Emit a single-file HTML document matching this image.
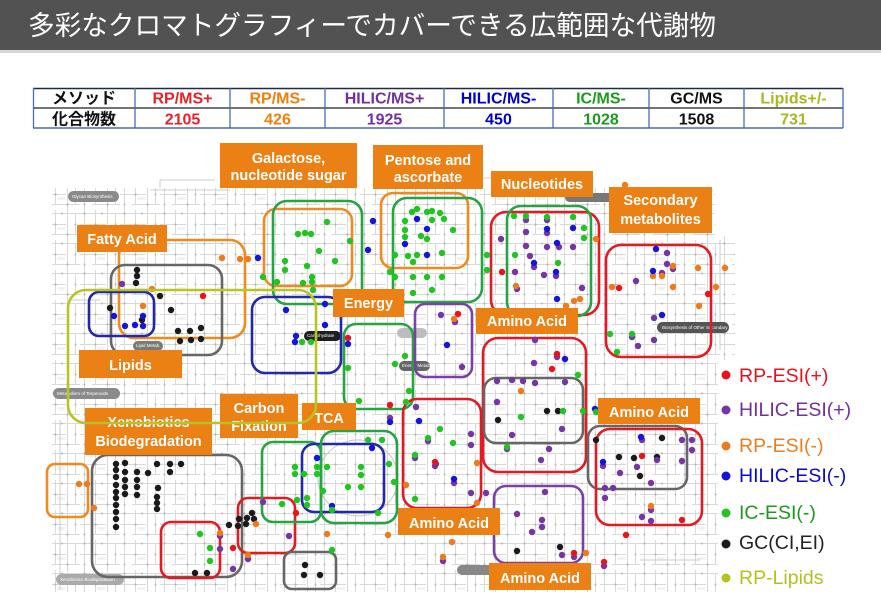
<!DOCTYPE html>
<html><head><meta charset="utf-8"><style>
html,body{margin:0;padding:0;background:#fff;}
body{width:881px;height:606px;overflow:hidden;}
svg{display:block;}
.lb{font-family:"Liberation Sans",Arial,sans-serif;font-weight:bold;font-size:14.5px;fill:#fff;text-anchor:middle;}
.tb{font-family:"Liberation Sans","Noto Sans CJK JP",sans-serif;font-weight:bold;font-size:16px;text-anchor:middle;}
.lg{font-family:"Liberation Sans",Arial,sans-serif;font-size:19.5px;}
.pl{font-family:"Liberation Sans",Arial,sans-serif;font-size:4.5px;fill:#fff;}
</style></head><body>
<svg width="881" height="606" viewBox="0 0 881 606" xmlns="http://www.w3.org/2000/svg">
<defs>
<pattern id="p" width="40" height="30" patternUnits="userSpaceOnUse">
<rect x="17" y="17" width="8" height="3" fill="#f2f2f2"/>
<path d="M0 3.5H40M0 14.5H26M12 24.5H40M4.5 0V30M15.5 0V24M27.5 0V30M35.5 4V24" stroke="#d9d9d9" stroke-width="1" fill="none"/>
<g fill="#b4b4b4"><circle cx="4.5" cy="3.5" r="1.1"/><circle cx="15.5" cy="14.5" r="1.1"/><circle cx="27.5" cy="24.5" r="1.1"/><circle cx="35.5" cy="14.5" r="1"/><circle cx="4.5" cy="24.5" r="1"/><circle cx="22" cy="3.5" r="1"/></g>
</pattern>
<clipPath id="c"><polygon points="52,188 715,188 715,236 735,236 735,360 718,360 718,592 52,592"/></clipPath>
</defs>

<!-- header -->
<rect x="0" y="0" width="881" height="50" fill="#525252"/>
<rect x="0" y="50" width="881" height="3" fill="#d6d6d6"/>
<text x="28" y="35" font-size="27" fill="#fff" textLength="688" lengthAdjust="spacingAndGlyphs" font-family="'Liberation Sans','Noto Sans CJK JP',sans-serif">多彩なクロマトグラフィーでカバーできる広範囲な代謝物</text>

<!-- table -->
<g>
<line x1="33" y1="88.5" x2="843" y2="88.5" stroke="#1f2a44" stroke-width="1.5"/>
<line x1="33" y1="108" x2="843" y2="108" stroke="#222" stroke-width="1.2"/>
<line x1="33" y1="128" x2="843" y2="128" stroke="#4a6cb0" stroke-width="1.5"/>
<g stroke="#4a6cb0" stroke-width="1.3">
<line x1="33.5" y1="88" x2="33.5" y2="128"/><line x1="135" y1="88" x2="135" y2="128"/><line x1="230" y1="88" x2="230" y2="128"/><line x1="325" y1="88" x2="325" y2="128"/><line x1="444" y1="88" x2="444" y2="128"/><line x1="553" y1="88" x2="553" y2="128"/><line x1="649" y1="88" x2="649" y2="128"/><line x1="744" y1="88" x2="744" y2="128"/><line x1="843" y1="88" x2="843" y2="128"/>
</g>
<text class="tb" x="84" y="103.5" fill="#111">メソッド</text>
<text class="tb" x="182.5" y="103.5" fill="#e8202a">RP/MS+</text>
<text class="tb" x="277.5" y="103.5" fill="#f07f09">RP/MS-</text>
<text class="tb" x="384.5" y="103.5" fill="#7030a0">HILIC/MS+</text>
<text class="tb" x="498.5" y="103.5" fill="#0000cc">HILIC/MS-</text>
<text class="tb" x="601" y="103.5" fill="#1a9c1a">IC/MS-</text>
<text class="tb" x="696.5" y="103.5" fill="#111">GC/MS</text>
<text class="tb" x="793.5" y="103.5" fill="#a8b820">Lipids+/-</text>
<text class="tb" x="84" y="124.5" fill="#111">化合物数</text>
<text class="tb" x="182.5" y="124.5" fill="#e8202a">2105</text>
<text class="tb" x="277.5" y="124.5" fill="#f07f09">426</text>
<text class="tb" x="384.5" y="124.5" fill="#7030a0">1925</text>
<text class="tb" x="498.5" y="124.5" fill="#0000cc">450</text>
<text class="tb" x="601" y="124.5" fill="#1a9c1a">1028</text>
<text class="tb" x="696.5" y="124.5" fill="#111">1508</text>
<text class="tb" x="793.5" y="124.5" fill="#a8b820">731</text>
</g>

<!-- map background -->
<rect x="40" y="180" width="700" height="420" fill="url(#p)" clip-path="url(#c)"/>
<g fill="none" stroke="#cccccc" stroke-width="1">
<path d="M160 188V180H215M470 188V178H520M150 190H230"/>
<ellipse cx="358" cy="478" rx="40" ry="38" stroke="#c4c4c4"/>
<path d="M70 300H100M60 420V590M720 240V350M640 560H700"/>
</g>

<!-- gray pills -->
<g>
<rect x="68" y="191" width="51" height="11" rx="5.5" fill="#8a8a8a"/><text class="pl" x="72" y="198">Glycan Biosynthesis</text>
<rect x="133" y="341" width="30" height="10" rx="5" fill="#7a7a7a"/><text class="pl" x="136" y="347">Lipid Metab.</text>
<rect x="304" y="331" width="37" height="10" rx="5" fill="#1e1e1e"/><text class="pl" x="307" y="337">Carbohydrate</text>
<rect x="397" y="328" width="30" height="10" rx="5" fill="#bdbdbd"/>
<rect x="399" y="361" width="31" height="10" rx="5" fill="#666"/><text class="pl" x="402" y="367">Energy Metab.</text>
<rect x="657" y="322" width="72" height="11" rx="5.5" fill="#555"/><text class="pl" x="662" y="329">Biosynthesis of Other Secondary Metabolites</text>
<rect x="53" y="388" width="67" height="11" rx="5.5" fill="#8a8a8a"/><text class="pl" x="57" y="395">Metabolism of Terpenoids</text>
<rect x="56" y="574" width="68" height="11" rx="5.5" fill="#aaa"/><text class="pl" x="60" y="581">Xenobiotics Biodegradation</text>
<rect x="565" y="193" width="50" height="9" rx="4.5" fill="#777"/>
<rect x="457" y="565" width="40" height="10" rx="5" fill="#888"/>
</g>

<!-- colored boxes -->
<g fill="none" stroke-width="2.6">
<rect x="264" y="209" width="88" height="77" rx="12" stroke="#ef8a1e"/>
<rect x="273" y="201" width="89" height="103" rx="14" stroke="#27a344"/>
<rect x="381" y="193" width="87" height="75" rx="12" stroke="#ef8a1e"/>
<rect x="393" y="198" width="89" height="104" rx="14" stroke="#27a344"/>
<rect x="119" y="240" width="126" height="98" rx="15" stroke="#ef8a1e"/>
<rect x="111" y="265" width="111" height="90" rx="14" stroke="#666"/>
<rect x="89" y="292" width="65" height="44" rx="10" stroke="#2228a8"/>
<rect x="252" y="297" width="89" height="76" rx="13" stroke="#2228a8"/>
<rect x="344" y="324" width="69" height="85" rx="12" stroke="#27a344"/>
<rect x="415" y="304" width="57" height="73" rx="10" stroke="#7a3fa8"/>
<rect x="491" y="212" width="108" height="103" rx="15" stroke="#e21b23"/>
<rect x="507" y="206" width="84" height="110" rx="14" stroke="#27a344"/>
<rect x="606" y="245" width="105" height="112" rx="15" stroke="#e21b23"/>
<rect x="483" y="338" width="103" height="134" rx="15" stroke="#e21b23"/>
<rect x="484" y="378" width="99" height="65" rx="12" stroke="#666"/>
<rect x="403" y="399" width="78" height="109" rx="14" stroke="#e21b23"/>
<rect x="494" y="486" width="89" height="77" rx="12" stroke="#7a3fa8"/>
<rect x="588" y="426" width="99" height="63" rx="12" stroke="#666"/>
<rect x="596" y="429" width="106" height="96" rx="14" stroke="#e21b23"/>
<rect x="47" y="464" width="41" height="53" rx="8" stroke="#ef8a1e"/>
<rect x="92" y="455" width="150" height="122" rx="16" stroke="#666"/>
<rect x="161" y="522" width="59" height="56" rx="10" stroke="#e21b23"/>
<rect x="238" y="498" width="57" height="55" rx="10" stroke="#e21b23"/>
<rect x="284" y="552" width="52" height="37" rx="8" stroke="#666"/>
<rect x="262" y="442" width="59" height="80" rx="11" stroke="#27a344"/>
<rect x="302" y="444" width="82" height="68" rx="12" stroke="#2228a8"/>
<rect x="321" y="431" width="76" height="92" rx="13" stroke="#27a344"/>
</g>

<!-- dots -->
<g fill="#1a1a1a">
<circle cx="137" cy="270" r="3.2"/><circle cx="137" cy="276" r="3.2"/><circle cx="136" cy="283" r="3.2"/><circle cx="160" cy="296" r="3.2"/><circle cx="110" cy="308" r="3.2"/><circle cx="171" cy="310" r="3.2"/><circle cx="142" cy="320" r="3.2"/><circle cx="178" cy="331" r="3.2"/><circle cx="190" cy="331" r="3.2"/><circle cx="201" cy="328" r="3.2"/><circle cx="180" cy="341" r="3.2"/><circle cx="191" cy="340" r="3.2"/><circle cx="201" cy="339" r="3.2"/>
<circle cx="116" cy="464" r="3.2"/><circle cx="116" cy="470" r="3.2"/><circle cx="116" cy="477" r="3.2"/><circle cx="116" cy="485" r="3.2"/><circle cx="116" cy="492" r="3.2"/><circle cx="116" cy="498" r="3.2"/><circle cx="116" cy="505" r="3.2"/><circle cx="116" cy="512" r="3.2"/><circle cx="116" cy="519" r="3.2"/><circle cx="116" cy="527" r="3.2"/>
<circle cx="125" cy="463" r="3.2"/><circle cx="125" cy="472" r="3.2"/><circle cx="125" cy="480" r="3.2"/><circle cx="125" cy="487" r="3.2"/><circle cx="125" cy="494" r="3.2"/>
<circle cx="137" cy="472" r="3.2"/><circle cx="137" cy="480" r="3.2"/><circle cx="137" cy="487" r="3.2"/><circle cx="137" cy="495" r="3.2"/><circle cx="148" cy="473" r="3.2"/>
<circle cx="157" cy="464" r="3.2"/><circle cx="158" cy="488" r="3.2"/><circle cx="157" cy="497" r="3.2"/><circle cx="157" cy="503" r="3.2"/><circle cx="157" cy="509" r="3.2"/><circle cx="170" cy="464" r="3.2"/><circle cx="170" cy="472" r="3.2"/><circle cx="181" cy="464" r="3.2"/>
<circle cx="239" cy="519" r="3.2"/><circle cx="247" cy="518" r="3.2"/><circle cx="252" cy="513" r="3.2"/><circle cx="254" cy="519" r="3.2"/><circle cx="229" cy="525" r="3.2"/><circle cx="238" cy="526" r="3.2"/><circle cx="246" cy="524" r="3.2"/>
<circle cx="195" cy="573" r="3.2"/><circle cx="207" cy="573" r="3.2"/>
<circle cx="305" cy="565" r="3.2"/><circle cx="304" cy="575" r="3.2"/><circle cx="320" cy="575" r="3.2"/>
<circle cx="498" cy="420" r="3.2"/><circle cx="547" cy="411" r="3.2"/><circle cx="558" cy="411" r="3.2"/>
<circle cx="619" cy="409" r="3.2"/><circle cx="596" cy="440" r="3.2"/><circle cx="662" cy="438" r="3.2"/><circle cx="619" cy="457" r="3.2"/><circle cx="634" cy="458" r="3.2"/><circle cx="657" cy="457" r="3.2"/><circle cx="640" cy="476" r="3.2"/>
<circle cx="560" cy="547" r="3.2"/><circle cx="517" cy="551" r="3.2"/>
</g>
<g fill="#7535a5">
<circle cx="122" cy="284" r="3.2"/><circle cx="526" cy="220" r="3.2"/><circle cx="547" cy="220" r="3.2"/><circle cx="501" cy="239" r="3.2"/><circle cx="526" cy="232" r="3.2"/><circle cx="526" cy="246" r="3.2"/><circle cx="547" cy="233" r="3.2"/><circle cx="573" cy="247" r="3.2"/><circle cx="547" cy="247" r="3.2"/><circle cx="559" cy="247" r="3.2"/><circle cx="530" cy="256" r="3.2"/><circle cx="534" cy="267" r="3.2"/><circle cx="544" cy="275" r="3.2"/><circle cx="556" cy="276" r="3.2"/><circle cx="515" cy="272" r="3.2"/><circle cx="517" cy="289" r="3.2"/><circle cx="582" cy="288" r="3.2"/>
<circle cx="667" cy="253" r="3.2"/><circle cx="662" cy="273" r="3.2"/><circle cx="667" cy="264" r="3.2"/><circle cx="673" cy="269" r="3.2"/><circle cx="636" cy="281" r="3.2"/><circle cx="654" cy="318" r="3.2"/><circle cx="632" cy="337" r="3.2"/><circle cx="654" cy="340" r="3.2"/><circle cx="638" cy="346" r="3.2"/>
<circle cx="441" cy="315" r="3.2"/><circle cx="455" cy="322" r="3.2"/><circle cx="462" cy="367" r="3.2"/><circle cx="535" cy="340" r="3.2"/><circle cx="557" cy="357" r="3.2"/><circle cx="534" cy="363" r="3.2"/>
<circle cx="497" cy="381" r="3.2"/><circle cx="512" cy="380" r="3.2"/><circle cx="523" cy="381" r="3.2"/><circle cx="535" cy="383" r="3.2"/><circle cx="565" cy="382" r="3.2"/><circle cx="497" cy="402" r="3.2"/><circle cx="512" cy="435" r="3.2"/><circle cx="562" cy="429" r="3.2"/><circle cx="507" cy="449" r="3.2"/><circle cx="549" cy="449" r="3.2"/><circle cx="541" cy="460" r="3.2"/>
<circle cx="471" cy="434" r="3.2"/><circle cx="471" cy="445" r="3.2"/><circle cx="436" cy="464" r="3.2"/><circle cx="454" cy="483" r="3.2"/><circle cx="471" cy="493" r="3.2"/><circle cx="486" cy="493" r="3.2"/>
<circle cx="642" cy="440" r="3.2"/><circle cx="682" cy="440" r="3.2"/><circle cx="692" cy="440" r="3.2"/><circle cx="692" cy="450" r="3.2"/><circle cx="657" cy="460" r="3.2"/><circle cx="682" cy="461" r="3.2"/><circle cx="603" cy="466" r="3.2"/><circle cx="620" cy="473" r="3.2"/><circle cx="637" cy="467" r="3.2"/><circle cx="651" cy="483" r="3.2"/><circle cx="605" cy="488" r="3.2"/><circle cx="613" cy="488" r="3.2"/><circle cx="605" cy="498" r="3.2"/><circle cx="651" cy="510" r="3.2"/><circle cx="642" cy="517" r="3.2"/><circle cx="651" cy="521" r="3.2"/>
<circle cx="545" cy="492" r="3.2"/><circle cx="517" cy="514" r="3.2"/><circle cx="542" cy="520" r="3.2"/><circle cx="542" cy="527" r="3.2"/><circle cx="532" cy="532" r="3.2"/><circle cx="562" cy="555" r="3.2"/><circle cx="574" cy="557" r="3.2"/><circle cx="604" cy="566" r="3.2"/><circle cx="443" cy="561" r="3.2"/>
<circle cx="220" cy="536" r="3.2"/><circle cx="220" cy="549" r="3.2"/><circle cx="233" cy="569" r="3.2"/><circle cx="289" cy="536" r="3.2"/><circle cx="263" cy="502" r="3.2"/><circle cx="248" cy="559" r="3.2"/>
<circle cx="390" cy="418" r="3.2"/><circle cx="416" cy="407" r="3.2"/><circle cx="428" cy="441" r="3.2"/><circle cx="415" cy="458" r="3.2"/><circle cx="435" cy="466" r="3.2"/>
</g>
<g fill="#f07a1a">
<circle cx="152" cy="289" r="3.2"/><circle cx="143" cy="306" r="3.2"/><circle cx="222" cy="258" r="3.2"/><circle cx="240" cy="259" r="3.2"/><circle cx="248" cy="259" r="3.2"/><circle cx="596" cy="239" r="3.2"/><circle cx="516" cy="286" r="3.2"/><circle cx="574" cy="301" r="3.2"/><circle cx="580" cy="299" r="3.2"/><circle cx="566" cy="306" r="3.2"/>
<circle cx="653" cy="276" r="3.2"/><circle cx="662" cy="276" r="3.2"/><circle cx="673" cy="266" r="3.2"/><circle cx="698" cy="268" r="3.2"/><circle cx="725" cy="268" r="3.2"/><circle cx="612" cy="287" r="3.2"/><circle cx="673" cy="287" r="3.2"/><circle cx="716" cy="287" r="3.2"/><circle cx="699" cy="306" r="3.2"/><circle cx="625" cy="185" r="3.2"/>
<circle cx="454" cy="319" r="3.2"/><circle cx="521" cy="391" r="3.2"/><circle cx="477" cy="463" r="3.2"/><circle cx="477" cy="503" r="3.2"/><circle cx="651" cy="506" r="3.2"/><circle cx="586" cy="553" r="3.2"/><circle cx="452" cy="542" r="3.2"/><circle cx="443" cy="557" r="3.2"/>
<circle cx="79" cy="484" r="3.2"/><circle cx="87" cy="484" r="3.2"/><circle cx="94" cy="508" r="3.2"/><circle cx="256" cy="524" r="3.2"/><circle cx="220" cy="533" r="3.2"/><circle cx="327" cy="534" r="3.2"/><circle cx="388" cy="535" r="3.2"/><circle cx="406" cy="485" r="3.2"/><circle cx="248" cy="555" r="3.2"/>
</g>
<g fill="#e8141c">
<circle cx="203" cy="296" r="3.2"/><circle cx="348" cy="338" r="3.2"/><circle cx="390" cy="405" r="3.2"/><circle cx="458" cy="314" r="3.2"/><circle cx="502" cy="272" r="3.2"/><circle cx="619" cy="288" r="3.2"/><circle cx="708" cy="294" r="3.2"/><circle cx="557" cy="354" r="3.2"/><circle cx="552" cy="369" r="3.2"/><circle cx="642" cy="456" r="3.2"/><circle cx="682" cy="520" r="3.2"/><circle cx="626" cy="535" r="3.2"/><circle cx="233" cy="548" r="3.2"/><circle cx="296" cy="513" r="3.2"/><circle cx="435" cy="462" r="3.2"/><circle cx="574" cy="553" r="3.2"/><circle cx="604" cy="562" r="3.2"/>
</g>
<g fill="#1414dc">
<circle cx="114" cy="316" r="3.2"/><circle cx="125" cy="326" r="3.2"/><circle cx="135" cy="325" r="3.2"/><circle cx="143" cy="316" r="3.2"/><circle cx="143" cy="326" r="3.2"/><circle cx="258" cy="258" r="3.2"/><circle cx="373" cy="221" r="3.2"/><circle cx="368" cy="250" r="3.2"/><circle cx="286" cy="310" r="3.2"/><circle cx="325" cy="325" r="3.2"/><circle cx="296" cy="336" r="3.2"/><circle cx="295" cy="342" r="3.2"/><circle cx="325" cy="304" r="3.2"/><circle cx="348" cy="344" r="3.2"/>
<circle cx="547" cy="229" r="3.2"/><circle cx="573" cy="228" r="3.2"/><circle cx="557" cy="243" r="3.2"/><circle cx="534" cy="263" r="3.2"/><circle cx="556" cy="272" r="3.2"/><circle cx="557" cy="299" r="3.2"/><circle cx="656" cy="249" r="3.2"/><circle cx="653" cy="271" r="3.2"/><circle cx="662" cy="315" r="3.2"/><circle cx="447" cy="345" r="3.2"/><circle cx="565" cy="359" r="3.2"/>
<circle cx="317" cy="458" r="3.2"/><circle cx="372" cy="448" r="3.2"/><circle cx="332" cy="506" r="3.2"/><circle cx="390" cy="422" r="3.2"/><circle cx="419" cy="421" r="3.2"/><circle cx="454" cy="479" r="3.2"/><circle cx="595" cy="409" r="3.2"/><circle cx="641" cy="437" r="3.2"/><circle cx="603" cy="462" r="3.2"/>
<circle cx="417" cy="219" r="3.2"/><circle cx="427" cy="229" r="3.2"/><circle cx="405" cy="244" r="3.2"/><circle cx="427" cy="255" r="3.2"/>
</g>
<g fill="#22c422">
<circle cx="327" cy="222" r="3.2"/><circle cx="298" cy="234" r="3.2"/><circle cx="305" cy="233" r="3.2"/><circle cx="311" cy="234" r="3.2"/><circle cx="350" cy="241" r="3.2"/><circle cx="319" cy="251" r="3.2"/><circle cx="285" cy="261" r="3.2"/><circle cx="335" cy="261" r="3.2"/><circle cx="307" cy="266" r="3.2"/><circle cx="285" cy="270" r="3.2"/><circle cx="312" cy="277" r="3.2"/><circle cx="312" cy="282" r="3.2"/><circle cx="303" cy="283" r="3.2"/><circle cx="313" cy="290" r="3.2"/><circle cx="277" cy="282" r="3.2"/><circle cx="263" cy="277" r="3.2"/><circle cx="302" cy="342" r="3.2"/><circle cx="311" cy="342" r="3.2"/>
<circle cx="417" cy="209" r="3.2"/><circle cx="412" cy="212" r="3.2"/><circle cx="405" cy="221" r="3.2"/><circle cx="427" cy="212" r="3.2"/><circle cx="432" cy="211" r="3.2"/><circle cx="440" cy="213" r="3.2"/><circle cx="432" cy="220" r="3.2"/><circle cx="405" cy="230" r="3.2"/><circle cx="405" cy="237" r="3.2"/><circle cx="421" cy="236" r="3.2"/><circle cx="427" cy="239" r="3.2"/><circle cx="408" cy="256" r="3.2"/><circle cx="417" cy="255" r="3.2"/><circle cx="442" cy="253" r="3.2"/><circle cx="395" cy="255" r="3.2"/><circle cx="413" cy="262" r="3.2"/><circle cx="413" cy="277" r="3.2"/><circle cx="427" cy="277" r="3.2"/><circle cx="442" cy="277" r="3.2"/><circle cx="395" cy="277" r="3.2"/><circle cx="413" cy="293" r="3.2"/><circle cx="432" cy="290" r="3.2"/><circle cx="390" cy="272" r="3.2"/><circle cx="444" cy="219" r="3.2"/><circle cx="453" cy="230" r="3.2"/>
<circle cx="514" cy="216" r="3.2"/><circle cx="526" cy="216" r="3.2"/><circle cx="547" cy="217" r="3.2"/><circle cx="573" cy="217" r="3.2"/><circle cx="584" cy="228" r="3.2"/><circle cx="584" cy="238" r="3.2"/><circle cx="515" cy="255" r="3.2"/><circle cx="558" cy="263" r="3.2"/><circle cx="487" cy="255" r="3.2"/><circle cx="487" cy="270" r="3.2"/>
<circle cx="632" cy="334" r="3.2"/><circle cx="610" cy="334" r="3.2"/><circle cx="617" cy="352" r="3.2"/>
<circle cx="348" cy="368" r="3.2"/><circle cx="405" cy="356" r="3.2"/><circle cx="395" cy="364" r="3.2"/><circle cx="409" cy="391" r="3.2"/><circle cx="359" cy="401" r="3.2"/><circle cx="406" cy="402" r="3.2"/>
<circle cx="440" cy="429" r="3.2"/><circle cx="428" cy="438" r="3.2"/><circle cx="415" cy="455" r="3.2"/><circle cx="453" cy="443" r="3.2"/><circle cx="521" cy="417" r="3.2"/><circle cx="563" cy="411" r="3.2"/><circle cx="507" cy="447" r="3.2"/><circle cx="578" cy="375" r="3.2"/><circle cx="583" cy="411" r="3.2"/><circle cx="596" cy="412" r="3.2"/><circle cx="415" cy="499" r="3.2"/>
<circle cx="295" cy="467" r="3.2"/><circle cx="295" cy="474" r="3.2"/><circle cx="304" cy="474" r="3.2"/><circle cx="317" cy="467" r="3.2"/><circle cx="317" cy="474" r="3.2"/><circle cx="327" cy="467" r="3.2"/><circle cx="323" cy="491" r="3.2"/><circle cx="348" cy="487" r="3.2"/><circle cx="361" cy="467" r="3.2"/><circle cx="361" cy="475" r="3.2"/><circle cx="361" cy="487" r="3.2"/><circle cx="368" cy="440" r="3.2"/><circle cx="382" cy="440" r="3.2"/><circle cx="389" cy="464" r="3.2"/><circle cx="394" cy="482" r="3.2"/><circle cx="378" cy="513" r="3.2"/><circle cx="332" cy="510" r="3.2"/><circle cx="282" cy="504" r="3.2"/><circle cx="297" cy="500" r="3.2"/><circle cx="307" cy="498" r="3.2"/><circle cx="307" cy="505" r="3.2"/><circle cx="332" cy="550" r="3.2"/>
<circle cx="200" cy="534" r="3.2"/><circle cx="210" cy="548" r="3.2"/><circle cx="210" cy="561" r="3.2"/>
</g>

<!-- orange labels -->
<g fill="#eb8014">
<rect x="220" y="143" width="137" height="45"/>
<rect x="373" y="145" width="110" height="44"/>
<rect x="491" y="171" width="102" height="26"/>
<rect x="609" y="187" width="103" height="46"/>
<rect x="77" y="225" width="90" height="27"/>
<rect x="333" y="289" width="71" height="28"/>
<rect x="79" y="350" width="103" height="28"/>
<rect x="476" y="308" width="102" height="26"/>
<rect x="85" y="408" width="127" height="47"/>
<rect x="220" y="394" width="78" height="44"/>
<rect x="302" y="403" width="54" height="27"/>
<rect x="598" y="398" width="102" height="26"/>
<rect x="398" y="508" width="102" height="27"/>
<rect x="489" y="563" width="102" height="27"/>
</g>
<g class="lb">
<text class="lb" x="288.5" y="163">Galactose,</text>
<text class="lb" x="288.5" y="180">nucleotide sugar</text>
<text class="lb" x="428" y="165">Pentose and</text>
<text class="lb" x="428" y="182">ascorbate</text>
<text class="lb" x="542" y="189">Nucleotides</text>
<text class="lb" x="660.5" y="205">Secondary</text>
<text class="lb" x="660.5" y="224">metabolites</text>
<text class="lb" x="122" y="244">Fatty Acid</text>
<text class="lb" x="368.5" y="308">Energy</text>
<text class="lb" x="130.5" y="370">Lipids</text>
<text class="lb" x="527" y="326">Amino Acid</text>
<text class="lb" x="148.5" y="427">Xenobiotics</text>
<text class="lb" x="148.5" y="446">Biodegradation</text>
<text class="lb" x="259" y="413">Carbon</text>
<text class="lb" x="259" y="431">Fixation</text>
<text class="lb" x="329" y="423">TCA</text>
<text class="lb" x="649" y="417">Amino Acid</text>
<text class="lb" x="449" y="528">Amino Acid</text>
<text class="lb" x="540" y="583">Amino Acid</text>
</g>

<!-- lipids box on top -->
<rect x="68" y="290" width="248" height="133" rx="18" fill="none" stroke="#b8c424" stroke-width="2.6"/>

<!-- legend -->
<g>
<circle cx="726" cy="375" r="4.5" fill="#e8141c"/><text class="lg" x="739" y="382" fill="#e5131c">RP-ESI(+)</text>
<circle cx="726" cy="410" r="4.5" fill="#7535a5"/><text class="lg" x="739" y="416" fill="#7030a0">HILIC-ESI(+)</text>
<circle cx="726" cy="446" r="4.5" fill="#f07a1a"/><text class="lg" x="739" y="452" fill="#ee7d1e">RP-ESI(-)</text>
<circle cx="726" cy="476" r="4.5" fill="#1414dc"/><text class="lg" x="739" y="482" fill="#0a0acc">HILIC-ESI(-)</text>
<circle cx="726" cy="513" r="4.5" fill="#22c422"/><text class="lg" x="739" y="519" fill="#1a9a1a">IC-ESI(-)</text>
<circle cx="726" cy="544" r="4.5" fill="#1a1a1a"/><text class="lg" x="739" y="549" fill="#222">GC(CI,EI)</text>
<circle cx="726" cy="578" r="4.5" fill="#b4c11e"/><text class="lg" x="739" y="584" fill="#b4c11e">RP-Lipids</text>
</g>
</svg>
</body></html>
